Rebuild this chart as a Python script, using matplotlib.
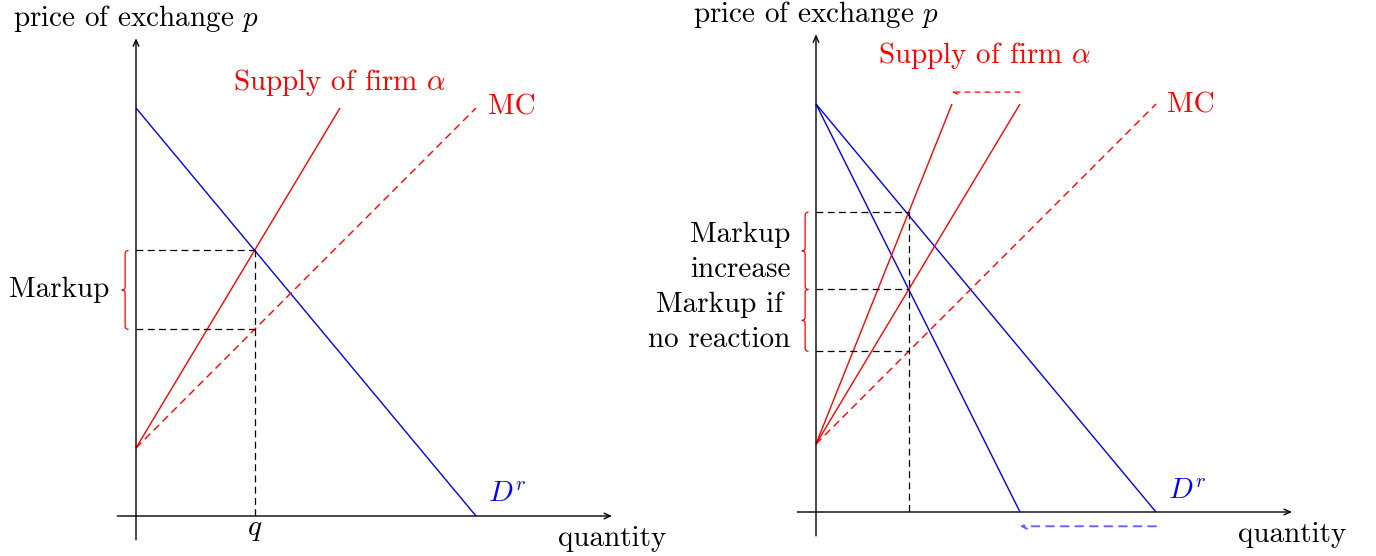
import matplotlib
matplotlib.use("Agg")
import matplotlib.pyplot as plt
from matplotlib.path import Path
from matplotlib.patches import PathPatch

plt.rcParams['font.family'] = ['cmr10', 'DejaVu Serif']
plt.rcParams['mathtext.fontset'] = 'cm'
plt.rcParams['axes.unicode_minus'] = False

# ---------------- data (chart units) ----------------
# Left panel
demand_L = [(0, 12), (10, 0)]
supply_L = [(0, 2), (6, 12)]
mc_L = [(0, 2), (10, 12)]
q_L = 3.488          # equilibrium quantity
p_L = 7.81           # price at equilibrium
mc_at_q_L = 5.49     # MC at equilibrium quantity

# Right panel
demand_R1 = [(0, 12), (10, 0)]
demand_R2 = [(0, 12), (6, 0)]
supply_R1 = [(0, 2), (6, 12)]
supply_R2 = [(0, 2), (4, 12)]
mc_R = [(0, 2), (10, 12)]
q_R = 2.727
p_R_high = 8.82
p_R_mid = 6.545
p_R_low = 4.727
shift_supply = [(6, 12.35), (4, 12.35)]
shift_demand = [(10, -0.42), (6, -0.42)]

labels_axes = ("price of exchange $p$", "quantity")
label_supply = r"Supply of firm $\alpha$"
label_mc = "MC"
label_dem = "$D^r$"

FS = 21
RED = (1, 0, 0)
BLUE = (0, 0, 1)

W, H = 1376, 556
fig = plt.figure(figsize=(W / 100, H / 100), dpi=100)
PX = 34.0


def make_axes(ox, oy_top):
    oy = H - oy_top
    ax = fig.add_axes([0, 0, 1, 1])
    ax.set_xlim(-ox / PX, (W - ox) / PX)
    ax.set_ylim(-oy / PX, (H - oy) / PX)
    ax.axis('off')
    ax.patch.set_alpha(0)
    return ax


def seg(ax, pts, **kw):
    ax.plot([pts[0][0], pts[1][0]], [pts[0][1], pts[1][1]], solid_capstyle='butt', **kw)


def axes_arrows(ax):
    ax.annotate('', xy=(0, 14.05), xytext=(0, -0.7),
                arrowprops=dict(arrowstyle='->,head_length=0.45,head_width=0.2', lw=1.0, color='black',
                                shrinkA=0, shrinkB=0))
    ax.annotate('', xy=(14.0, 0), xytext=(-0.55, 0),
                arrowprops=dict(arrowstyle='->,head_length=0.45,head_width=0.2', lw=1.0, color='black',
                                shrinkA=0, shrinkB=0))
    ax.text(0, 14.62, labels_axes[0], ha='center', va='center', fontsize=FS)
    ax.text(14.0, -0.66, labels_axes[1], ha='center', va='center', fontsize=FS)


def brace(ax, xe, y0, y1, a=0.2, color=RED):
    ym = (y0 + y1) / 2
    xm = xe - a / 2
    verts = [(xe, y1), (xm, y1), (xm, y1 - a / 2),
             (xm, ym + a / 2),
             (xm, ym), (xe - a, ym),
             (xm, ym), (xm, ym - a / 2),
             (xm, y0 + a / 2),
             (xm, y0), (xe, y0)]
    codes = [Path.MOVETO, Path.CURVE3, Path.CURVE3, Path.LINETO,
             Path.CURVE3, Path.CURVE3, Path.CURVE3, Path.CURVE3,
             Path.LINETO, Path.CURVE3, Path.CURVE3]
    ax.add_patch(PathPatch(Path(verts, codes), fill=False, edgecolor=color, lw=0.9))


DASH = (0, (5.5, 3.5))

# ---------------- left panel ----------------
axL = make_axes(136, 516)
axes_arrows(axL)
seg(axL, demand_L, color=BLUE, lw=1.0)
seg(axL, supply_L, color=RED, lw=1.0)
seg(axL, mc_L, color=RED, lw=1.0, linestyle=DASH)
axL.plot([0, q_L], [p_L, p_L], color='black', lw=0.9, linestyle=DASH)
axL.plot([0, q_L], [mc_at_q_L, mc_at_q_L], color='black', lw=0.9, linestyle=DASH)
axL.plot([q_L, q_L], [p_L, 0], color='black', lw=0.9, linestyle=DASH)
axL.text(q_L, -0.42, "$q$", ha='center', va='center', fontsize=FS)
axL.text(supply_L[1][0], 12.76, label_supply, ha='center', va='center', fontsize=FS, color=RED)
axL.text(10.35, 12.03, label_mc, ha='left', va='center', fontsize=FS, color=RED)
axL.text(10.35, 0.62, label_dem, ha='left', va='center', fontsize=FS, color=BLUE)
brace(axL, -0.22, mc_at_q_L, p_L)
axL.text(-0.78, (p_L + mc_at_q_L) / 2, "Markup", ha='right', va='center', fontsize=FS)

# ---------------- right panel ----------------
axR = make_axes(816, 512)
axes_arrows(axR)
seg(axR, demand_R1, color=BLUE, lw=1.0)
seg(axR, demand_R2, color=BLUE, lw=1.0)
seg(axR, supply_R1, color=RED, lw=1.0)
seg(axR, supply_R2, color=RED, lw=1.0)
seg(axR, mc_R, color=RED, lw=1.0, linestyle=DASH)
for yv in (p_R_high, p_R_mid, p_R_low):
    axR.plot([0, q_R], [yv, yv], color='black', lw=0.9, linestyle=DASH)
axR.plot([q_R, q_R], [p_R_high, 0], color='black', lw=0.9, linestyle=DASH)

axR.annotate('', xy=shift_supply[1], xytext=shift_supply[0],
             arrowprops=dict(arrowstyle='->,head_length=0.3,head_width=0.15', lw=0.9, color=RED,
                             linestyle=(0, (4, 4)), shrinkA=0, shrinkB=0))
axR.annotate('', xy=shift_demand[1], xytext=shift_demand[0],
             arrowprops=dict(arrowstyle='->,head_length=0.35,head_width=0.18', lw=1.4,
                             color=(0.4, 0.4, 1.0), linestyle=(0, (4, 3.5)), shrinkA=0, shrinkB=0))

axR.text(4.97, 13.44, label_supply, ha='center', va='center', fontsize=FS, color=RED)
axR.text(10.32, 11.97, label_mc, ha='left', va='center', fontsize=FS, color=RED)
axR.text(10.35, 0.59, label_dem, ha='left', va='center', fontsize=FS, color=BLUE)
brace(axR, -0.22, p_R_mid, p_R_high)
brace(axR, -0.22, p_R_low, p_R_mid)
axR.text(-0.76, 8.15, "Markup", ha='right', va='center', fontsize=FS)
axR.text(-0.76, 7.12, "increase", ha='right', va='center', fontsize=FS)
axR.text(-0.96, 6.09, "Markup if", ha='right', va='center', fontsize=FS)
axR.text(-0.76, 5.06, "no reaction", ha='right', va='center', fontsize=FS)

fig.savefig("out.png", dpi=100)
